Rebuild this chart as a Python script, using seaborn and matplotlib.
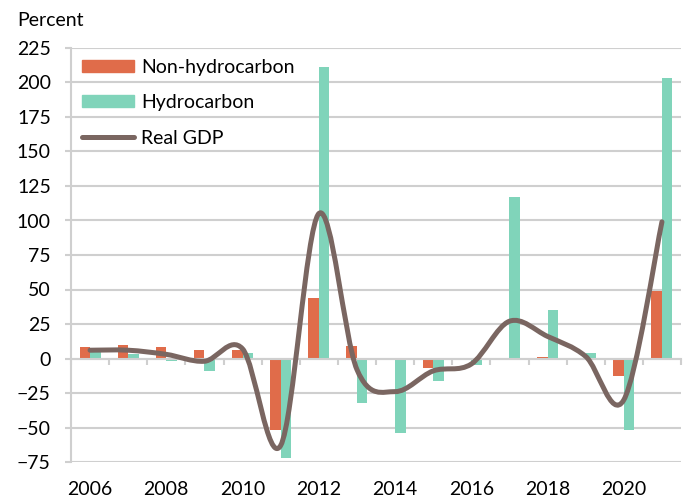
# Imports
import numpy as np
import pandas as pd
import seaborn as sns
import matplotlib.pyplot as plt
from matplotlib.path import Path
from matplotlib.patches import PathPatch, Patch
from matplotlib.lines import Line2D

# Dados (percent)
years = list(range(2006, 2022))
non_hydro = [8, 10, 8, 6, 6, -52, 44, 9, -1, -7, -1, 0, 1, 0.5, -13, 49]
hydro = [5, 3, -2, -9, 4, -72, 211, -32, -54, -16, -5, 117, 35, 4, -52, 203]
real_gdp = [6, 6, 3, -2, 7, -63, 105, -8, -24, -9, -4, 27, 16, 1.5, -30, 99]
series_names = ['Non-hydrocarbon', 'Hydrocarbon', 'Real GDP']
year_labels = [str(y) for y in years[::2]]
y_ticks = list(range(-75, 226, 25))

# Cores
orange = '#E06C4A'
teal = '#80D4BA'
brown = '#7A6661'
grid_col = '#CFCFCF'

plt.rcParams['font.family'] = ['Lato', 'DejaVu Sans']

df = pd.DataFrame({
    'year': years * 2,
    'value': non_hydro + hydro,
    'series': [series_names[0]] * len(years) + [series_names[1]] * len(years),
})

fig = plt.figure(figsize=(6.86, 4.98), dpi=100)
ax = fig.add_axes([71 / 686, 1 - 462 / 498, 610 / 686, 414 / 498])

sns.barplot(data=df, x='year', y='value', hue='series', hue_order=series_names[:2],
            palette=[orange, teal], width=0.55, gap=0, saturation=1,
            linewidth=0, legend=False, ax=ax)

# Linha suavizada (Bezier tipo Catmull-Rom, como no Excel)
pts = np.column_stack([np.arange(len(real_gdp)), real_gdp]).astype(float)
verts = [pts[0]]
codes = [Path.MOVETO]
n = len(pts)
for i in range(n - 1):
    p0 = pts[max(i - 1, 0)]
    p1 = pts[i]
    p2 = pts[i + 1]
    p3 = pts[min(i + 2, n - 1)]
    verts += [p1 + (p2 - p0) / 6, p2 - (p3 - p1) / 6, p2]
    codes += [Path.CURVE4] * 3
ax.add_patch(PathPatch(Path(verts, codes), fill=False, edgecolor=brown,
                       lw=3.6, capstyle='round', joinstyle='round', zorder=4))

# Eixos
ax.set_xlim(-0.5, len(years) - 0.5)
ax.set_ylim(-75, 225)
ax.set_yticks(y_ticks)
ax.yaxis.grid(True, color=grid_col, lw=1.5)
ax.set_axisbelow(True)
ax.set_xlabel('')
ax.set_ylabel('')
for s in ['top', 'right']:
    ax.spines[s].set_visible(False)
ax.spines['left'].set_color(grid_col)
ax.spines['left'].set_linewidth(1.5)
ax.spines['bottom'].set_position(('data', 0))
ax.spines['bottom'].set_color(grid_col)
ax.spines['bottom'].set_linewidth(1.5)
ax.set_xticks(np.arange(-0.5, len(years), 1))
ax.tick_params(axis='x', length=4.5, width=1.5, color=grid_col, labelbottom=False)
ax.tick_params(axis='y', length=4.5, width=1.5, color=grid_col, pad=10, labelsize=14)

sec = ax.secondary_xaxis(0)
sec.set_xticks(range(0, len(years), 2))
sec.set_xticklabels(year_labels)
sec.tick_params(length=0, pad=13.5, labelsize=14)
sec.spines['bottom'].set_visible(False)

fig.text(17 / 686, 1 - 26 / 498, 'Percent', fontsize=14, va='baseline')

handles = [Patch(color=orange), Patch(color=teal),
           Line2D([], [], color=brown, lw=3.6, solid_capstyle='round')]
ax.legend(handles, series_names, loc='upper left', bbox_to_anchor=(0.0, 1.0),
          frameon=False, fontsize=14, handlelength=2.7, handleheight=0.6,
          handletextpad=0.35, labelspacing=0.95, borderaxespad=0.15)

fig.savefig('out.png', dpi=100)
